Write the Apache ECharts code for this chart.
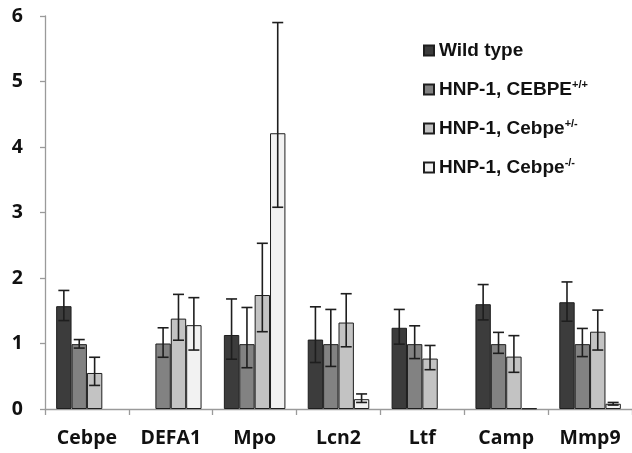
<!DOCTYPE html>
<html>
<head>
<meta charset="utf-8">
<script src="https://cdn.jsdelivr.net/npm/echarts@6/dist/echarts.min.js"></script>
<style>html,body{margin:0;padding:0;background:#fff}#c{width:632px;height:453px}</style>
</head>
<body>
<div id="c"></div>
<script>
const categories = ['Cebpe', 'DEFA1', 'Mpo', 'Lcn2', 'Ltf', 'Camp', 'Mmp9'];
const yTicks = [0, 1, 2, 3, 4, 5, 6];
const seriesBase = ['Wild type', 'HNP-1, CEBPE', 'HNP-1, Cebpe', 'HNP-1, Cebpe'];
const seriesSup = ['', '+/+', '+/-', '-/-'];

const wildType     = [1.57, null, 1.13, 1.06, 1.24, 1.60, 1.63];
const wildTypeHigh = [1.81, null, 1.68, 1.56, 1.52, 1.90, 1.94];
const wildTypeLow  = [1.35, null, 0.76, 0.71, 0.99, 1.36, 1.34];

const hnpWT     = [0.99, 1.00, 0.99, 0.99, 0.99, 0.99, 0.99];
const hnpWTHigh = [1.06, 1.24, 1.55, 1.52, 1.27, 1.17, 1.23];
const hnpWTLow  = [0.93, 0.79, 0.63, 0.65, 0.77, 0.85, 0.80];

const hnpHet     = [0.55, 1.38, 1.74, 1.32, 0.77, 0.80, 1.18];
const hnpHetHigh = [0.79, 1.75, 2.53, 1.76, 0.97, 1.12, 1.51];
const hnpHetLow  = [0.36, 1.05, 1.18, 0.95, 0.60, 0.56, 0.90];

const hnpKO     = [null, 1.28, 4.21, 0.15, null, 0.01, 0.08];
const hnpKOHigh = [null, 1.70, 5.90, 0.23, null, null, 0.10];
const hnpKOLow  = [null, 0.90, 3.08, 0.10, null, null, 0.06];

const means = [wildType, hnpWT, hnpHet, hnpKO];
const highs = [wildTypeHigh, hnpWTHigh, hnpHetHigh, hnpKOHigh];
const lows = [wildTypeLow, hnpWTLow, hnpHetLow, hnpKOLow];
const colors = ['#3c3c3c', '#828282', '#c3c3c3', '#f2f2f2'];
const names = seriesBase.map((b, i) => b + seriesSup[i]);

const GAP = 0.266;
const chart = echarts.init(document.getElementById('c'));

const barSeries = means.map((arr, i) => ({
  name: names[i],
  type: 'bar',
  data: arr.map(v => v == null ? '-' : v),
  barGap: '0%',
  barCategoryGap: (GAP * 100) + '%',
  itemStyle: { color: colors[i], borderColor: '#1e1e1e', borderWidth: 1 },
  emphasis: { disabled: true },
  animation: false
}));

const errSeries = means.map((arr, i) => ({
  type: 'custom',
  name: 'err' + i,
  data: categories.map((c, j) => [j, lows[i][j], highs[i][j]]).filter(d => d[1] != null),
  renderItem: function (params, api) {
    const j = api.value(0);
    const pLow = api.coord([j, api.value(1)]);
    const pHigh = api.coord([j, api.value(2)]);
    const band = api.size([1, 0])[0];
    const groupW = band * (1 - GAP);
    const barW = groupW / 4;
    const x = pLow[0] - groupW / 2 + barW * (i + 0.5);
    const cap = 5.5;
    const st = { stroke: '#1e1e1e', lineWidth: 1.6 };
    return {
      type: 'group',
      children: [
        { type: 'line', shape: { x1: x, y1: pLow[1], x2: x, y2: pHigh[1] }, style: st },
        { type: 'line', shape: { x1: x - cap, y1: pHigh[1], x2: x + cap, y2: pHigh[1] }, style: st },
        { type: 'line', shape: { x1: x - cap, y1: pLow[1], x2: x + cap, y2: pLow[1] }, style: st }
      ]
    };
  },
  encode: { x: 0, y: [1, 2] },
  z: 5,
  silent: true,
  animation: false
}));

chart.setOption({
  animation: false,
  grid: { left: 45, top: 16, width: 590, height: 393, containLabel: false },
  legend: {
    data: names,
    orient: 'vertical',
    left: 418,
    top: 36,
    itemGap: 19,
    itemWidth: 10,
    itemHeight: 10,
    icon: 'rect',
    formatter: function (name) {
      const i = names.indexOf(name);
      return '{b|' + seriesBase[i] + '}' + (seriesSup[i] ? '{s|' + seriesSup[i] + '}' : '');
    },
    textStyle: {
      rich: {
        b: { fontFamily: 'Liberation Sans', fontWeight: 'bold', fontSize: 19, color: '#111' },
        s: { fontFamily: 'Liberation Sans', fontWeight: 'bold', fontSize: 11, color: '#111', verticalAlign: 'top', padding: [0, 0, 10, 0] }
      }
    }
  },
  xAxis: {
    type: 'category',
    data: categories,
    axisLine: { lineStyle: { color: '#9a9a9a', width: 1.3 } },
    axisTick: { show: true, length: 6, lineStyle: { color: '#9a9a9a', width: 1.3 } },
    axisLabel: { fontFamily: 'Open Sans', fontWeight: 'bold', fontSize: 19.5, color: '#111', margin: 19 }
  },
  yAxis: {
    type: 'value',
    min: 0, max: 6, interval: 1,
    axisLine: { show: true, lineStyle: { color: '#9a9a9a', width: 1.3 } },
    axisTick: { show: true, length: 5, lineStyle: { color: '#9a9a9a', width: 1.3 } },
    splitLine: { show: false },
    axisLabel: {
      fontFamily: 'Open Sans', fontWeight: 'bold', fontSize: 19.5, color: '#111', margin: 22,
      formatter: v => yTicks.includes(v) ? String(v) : ''
    }
  },
  series: barSeries.concat(errSeries)
});
</script>
</body>
</html>
